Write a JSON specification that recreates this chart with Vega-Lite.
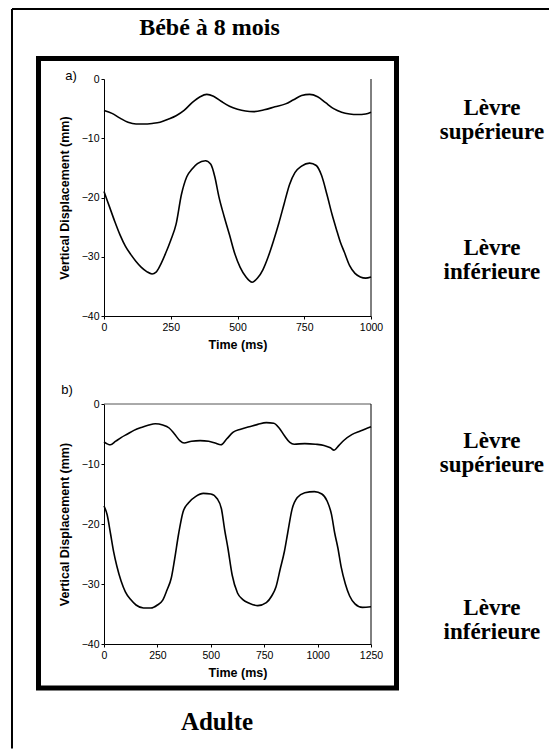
{
  "$schema": "https://vega.github.io/schema/vega-lite/v6.json",
  "background": "white",
  "padding": {"left": 10, "top": 8, "right": 0, "bottom": 0},
  "autosize": {"type": "pad"},
  "bounds": "flush",
  "spacing": 88,
  "config": {
    "view": {"stroke": null},
    "axis": {
      "grid": false,
      "domainColor": "#000",
      "tickColor": "#000",
      "labelColor": "#000",
      "titleColor": "#000",
      "labelFont": "Liberation Sans",
      "titleFont": "Liberation Sans",
      "labelFontSize": 10.5,
      "titleFontSize": 12.5,
      "titleFontWeight": "bold",
      "tickSize": 3,
      "domainWidth": 1
    }
  },
  "datasets": {
    "infant": [
      {"t": 0, "y": -5.3, "lip": "upper"}, {"t": 30, "y": -5.8, "lip": "upper"}, {"t": 60, "y": -6.6, "lip": "upper"}, {"t": 90, "y": -7.3, "lip": "upper"}, {"t": 120, "y": -7.6, "lip": "upper"}, {"t": 150, "y": -7.6, "lip": "upper"}, {"t": 180, "y": -7.5, "lip": "upper"}, {"t": 210, "y": -7.3, "lip": "upper"}, {"t": 240, "y": -6.8, "lip": "upper"}, {"t": 270, "y": -6.2, "lip": "upper"}, {"t": 300, "y": -5.3, "lip": "upper"}, {"t": 330, "y": -4.0, "lip": "upper"}, {"t": 360, "y": -3.0, "lip": "upper"}, {"t": 385, "y": -2.6, "lip": "upper"}, {"t": 410, "y": -2.9, "lip": "upper"}, {"t": 440, "y": -3.8, "lip": "upper"}, {"t": 470, "y": -4.6, "lip": "upper"}, {"t": 500, "y": -5.1, "lip": "upper"}, {"t": 530, "y": -5.4, "lip": "upper"}, {"t": 560, "y": -5.5, "lip": "upper"}, {"t": 600, "y": -5.2, "lip": "upper"}, {"t": 640, "y": -4.7, "lip": "upper"}, {"t": 680, "y": -4.2, "lip": "upper"}, {"t": 710, "y": -3.5, "lip": "upper"}, {"t": 740, "y": -2.8, "lip": "upper"}, {"t": 770, "y": -2.6, "lip": "upper"}, {"t": 800, "y": -3.0, "lip": "upper"}, {"t": 830, "y": -4.0, "lip": "upper"}, {"t": 860, "y": -5.0, "lip": "upper"}, {"t": 890, "y": -5.6, "lip": "upper"}, {"t": 920, "y": -5.9, "lip": "upper"}, {"t": 950, "y": -6.0, "lip": "upper"}, {"t": 980, "y": -5.9, "lip": "upper"}, {"t": 1000, "y": -5.6, "lip": "upper"},
      {"t": 0, "y": -19.0, "lip": "lower"}, {"t": 20, "y": -21.5, "lip": "lower"}, {"t": 40, "y": -24.0, "lip": "lower"}, {"t": 60, "y": -26.3, "lip": "lower"}, {"t": 80, "y": -28.2, "lip": "lower"}, {"t": 100, "y": -29.6, "lip": "lower"}, {"t": 120, "y": -30.8, "lip": "lower"}, {"t": 140, "y": -31.8, "lip": "lower"}, {"t": 160, "y": -32.5, "lip": "lower"}, {"t": 180, "y": -32.9, "lip": "lower"}, {"t": 195, "y": -32.6, "lip": "lower"}, {"t": 210, "y": -31.5, "lip": "lower"}, {"t": 230, "y": -29.5, "lip": "lower"}, {"t": 250, "y": -27.2, "lip": "lower"}, {"t": 270, "y": -24.5, "lip": "lower"}, {"t": 290, "y": -19.5, "lip": "lower"}, {"t": 310, "y": -16.5, "lip": "lower"}, {"t": 330, "y": -15.2, "lip": "lower"}, {"t": 350, "y": -14.3, "lip": "lower"}, {"t": 380, "y": -13.8, "lip": "lower"}, {"t": 400, "y": -14.4, "lip": "lower"}, {"t": 415, "y": -16.5, "lip": "lower"}, {"t": 430, "y": -19.8, "lip": "lower"}, {"t": 450, "y": -23.2, "lip": "lower"}, {"t": 470, "y": -26.3, "lip": "lower"}, {"t": 490, "y": -29.5, "lip": "lower"}, {"t": 510, "y": -31.8, "lip": "lower"}, {"t": 530, "y": -33.3, "lip": "lower"}, {"t": 555, "y": -34.3, "lip": "lower"}, {"t": 575, "y": -33.6, "lip": "lower"}, {"t": 595, "y": -32.2, "lip": "lower"}, {"t": 615, "y": -30.0, "lip": "lower"}, {"t": 635, "y": -27.3, "lip": "lower"}, {"t": 655, "y": -24.3, "lip": "lower"}, {"t": 675, "y": -21.0, "lip": "lower"}, {"t": 695, "y": -17.8, "lip": "lower"}, {"t": 715, "y": -15.8, "lip": "lower"}, {"t": 740, "y": -14.7, "lip": "lower"}, {"t": 770, "y": -14.2, "lip": "lower"}, {"t": 795, "y": -14.6, "lip": "lower"}, {"t": 815, "y": -16.3, "lip": "lower"}, {"t": 835, "y": -19.5, "lip": "lower"}, {"t": 855, "y": -23.0, "lip": "lower"}, {"t": 870, "y": -25.3, "lip": "lower"}, {"t": 885, "y": -27.5, "lip": "lower"}, {"t": 900, "y": -29.2, "lip": "lower"}, {"t": 920, "y": -31.5, "lip": "lower"}, {"t": 940, "y": -32.8, "lip": "lower"}, {"t": 960, "y": -33.4, "lip": "lower"}, {"t": 980, "y": -33.6, "lip": "lower"}, {"t": 1000, "y": -33.4, "lip": "lower"}
    ],
    "adult": [
      {"t": 0, "y": -6.3, "lip": "upper"}, {"t": 30, "y": -6.8, "lip": "upper"}, {"t": 55, "y": -6.2, "lip": "upper"}, {"t": 80, "y": -5.6, "lip": "upper"}, {"t": 110, "y": -5.0, "lip": "upper"}, {"t": 140, "y": -4.4, "lip": "upper"}, {"t": 175, "y": -3.9, "lip": "upper"}, {"t": 210, "y": -3.5, "lip": "upper"}, {"t": 240, "y": -3.3, "lip": "upper"}, {"t": 275, "y": -3.5, "lip": "upper"}, {"t": 305, "y": -4.0, "lip": "upper"}, {"t": 330, "y": -5.0, "lip": "upper"}, {"t": 355, "y": -6.1, "lip": "upper"}, {"t": 375, "y": -6.5, "lip": "upper"}, {"t": 410, "y": -6.2, "lip": "upper"}, {"t": 450, "y": -6.1, "lip": "upper"}, {"t": 490, "y": -6.2, "lip": "upper"}, {"t": 520, "y": -6.5, "lip": "upper"}, {"t": 547, "y": -6.8, "lip": "upper"}, {"t": 575, "y": -5.8, "lip": "upper"}, {"t": 605, "y": -4.7, "lip": "upper"}, {"t": 640, "y": -4.2, "lip": "upper"}, {"t": 680, "y": -3.8, "lip": "upper"}, {"t": 720, "y": -3.4, "lip": "upper"}, {"t": 760, "y": -3.1, "lip": "upper"}, {"t": 795, "y": -3.2, "lip": "upper"}, {"t": 820, "y": -4.0, "lip": "upper"}, {"t": 845, "y": -5.3, "lip": "upper"}, {"t": 870, "y": -6.4, "lip": "upper"}, {"t": 890, "y": -6.7, "lip": "upper"}, {"t": 940, "y": -6.6, "lip": "upper"}, {"t": 990, "y": -6.7, "lip": "upper"}, {"t": 1030, "y": -6.9, "lip": "upper"}, {"t": 1060, "y": -7.3, "lip": "upper"}, {"t": 1077, "y": -7.7, "lip": "upper"}, {"t": 1100, "y": -6.9, "lip": "upper"}, {"t": 1125, "y": -6.0, "lip": "upper"}, {"t": 1160, "y": -5.1, "lip": "upper"}, {"t": 1200, "y": -4.5, "lip": "upper"}, {"t": 1250, "y": -3.8, "lip": "upper"},
      {"t": 0, "y": -17.0, "lip": "lower"}, {"t": 15, "y": -18.5, "lip": "lower"}, {"t": 30, "y": -21.5, "lip": "lower"}, {"t": 45, "y": -24.6, "lip": "lower"}, {"t": 60, "y": -27.0, "lip": "lower"}, {"t": 80, "y": -29.5, "lip": "lower"}, {"t": 100, "y": -31.3, "lip": "lower"}, {"t": 125, "y": -32.6, "lip": "lower"}, {"t": 150, "y": -33.5, "lip": "lower"}, {"t": 185, "y": -34.0, "lip": "lower"}, {"t": 220, "y": -34.0, "lip": "lower"}, {"t": 250, "y": -33.5, "lip": "lower"}, {"t": 275, "y": -32.7, "lip": "lower"}, {"t": 295, "y": -31.0, "lip": "lower"}, {"t": 315, "y": -29.0, "lip": "lower"}, {"t": 330, "y": -26.0, "lip": "lower"}, {"t": 350, "y": -21.5, "lip": "lower"}, {"t": 370, "y": -18.0, "lip": "lower"}, {"t": 395, "y": -16.5, "lip": "lower"}, {"t": 430, "y": -15.4, "lip": "lower"}, {"t": 465, "y": -14.9, "lip": "lower"}, {"t": 500, "y": -15.0, "lip": "lower"}, {"t": 530, "y": -15.8, "lip": "lower"}, {"t": 550, "y": -17.5, "lip": "lower"}, {"t": 565, "y": -21.0, "lip": "lower"}, {"t": 580, "y": -24.0, "lip": "lower"}, {"t": 600, "y": -28.5, "lip": "lower"}, {"t": 625, "y": -31.5, "lip": "lower"}, {"t": 650, "y": -32.6, "lip": "lower"}, {"t": 680, "y": -33.2, "lip": "lower"}, {"t": 720, "y": -33.6, "lip": "lower"}, {"t": 760, "y": -33.1, "lip": "lower"}, {"t": 785, "y": -32.0, "lip": "lower"}, {"t": 805, "y": -30.5, "lip": "lower"}, {"t": 825, "y": -27.5, "lip": "lower"}, {"t": 845, "y": -24.5, "lip": "lower"}, {"t": 860, "y": -21.5, "lip": "lower"}, {"t": 880, "y": -17.6, "lip": "lower"}, {"t": 905, "y": -15.6, "lip": "lower"}, {"t": 940, "y": -14.8, "lip": "lower"}, {"t": 985, "y": -14.6, "lip": "lower"}, {"t": 1020, "y": -15.0, "lip": "lower"}, {"t": 1045, "y": -16.2, "lip": "lower"}, {"t": 1065, "y": -18.4, "lip": "lower"}, {"t": 1080, "y": -21.5, "lip": "lower"}, {"t": 1095, "y": -24.0, "lip": "lower"}, {"t": 1110, "y": -27.1, "lip": "lower"}, {"t": 1130, "y": -30.0, "lip": "lower"}, {"t": 1150, "y": -32.0, "lip": "lower"}, {"t": 1175, "y": -33.3, "lip": "lower"}, {"t": 1210, "y": -33.9, "lip": "lower"}, {"t": 1250, "y": -33.8, "lip": "lower"}
    ]
  },
  "vconcat": [
    {
      "width": 267,
      "height": 237,
      "layer": [
        {
          "data": {"values": [{}]},
          "mark": {"type": "rule", "color": "#000", "strokeWidth": 2, "strokeCap": "butt"},
          "encoding": {"x": {"datum": -344.6}, "y": {"datum": 11.81}, "y2": {"datum": -113.0}}
        },
        {
          "data": {"values": [{}]},
          "mark": {"type": "rule", "color": "#000", "strokeWidth": 2, "strokeCap": "butt"},
          "encoding": {"y": {"datum": 11.81}, "x": {"datum": -344.6}, "x2": {"datum": 1669}}
        },
        {
          "data": {"values": [{}]},
          "mark": {"type": "rect", "fillOpacity": 0, "stroke": "#000", "strokeWidth": 5},
          "encoding": {"x": {"datum": -245.3}, "x2": {"datum": 1095.5}, "y": {"datum": 3.46}, "y2": {"datum": -102.8}}
        },
        {
          "data": {"values": [{}]},
          "mark": {"type": "rule", "color": "#000", "strokeWidth": 1},
          "encoding": {"x": {"datum": 1000}, "y": {"datum": 0}, "y2": {"datum": -40}}
        },
        {
          "data": {"name": "infant"},
          "mark": {"type": "line", "color": "#000", "strokeWidth": 1.6, "interpolate": "monotone"},
          "encoding": {
            "x": {
              "field": "t", "type": "quantitative",
              "scale": {"domain": [0, 1000], "nice": false},
              "axis": {"title": "Time (ms)", "format": "d", "values": [0, 125, 250, 375, 500, 625, 750, 875, 1000], "labelExpr": "datum.value % 250 === 0 ? datum.label : ''", "labelPadding": 3, "titlePadding": 6, "labelFlush": false, "labelOverlap": false}
            },
            "y": {
              "field": "y", "type": "quantitative",
              "scale": {"domain": [-40, 0], "nice": false, "zero": false},
              "axis": {"title": "Vertical Displacement (mm)", "values": [0, -10, -20, -30, -40], "labelPadding": 2, "titlePadding": 10}
            },
            "detail": {"field": "lip"}
          }
        },
        {
          "data": {"values": [{}]},
          "mark": {"type": "text", "text": "a)", "font": "Liberation Sans", "fontSize": 13, "align": "center", "baseline": "middle", "color": "#000"},
          "encoding": {"x": {"datum": -123.6}, "y": {"datum": 0.5}}
        },
        {
          "data": {"values": [{}]},
          "mark": {"type": "text", "text": "Bébé à 8 mois", "font": "Liberation Serif", "fontWeight": "bold", "fontSize": 24, "align": "center", "baseline": "middle", "color": "#000"},
          "encoding": {"x": {"datum": 395}, "y": {"datum": 8.6}}
        },
        {
          "data": {"values": [{}]},
          "mark": {"type": "text", "text": ["Lèvre", "supérieure"], "font": "Liberation Serif", "fontWeight": "bold", "fontSize": 23, "lineHeight": 24, "align": "center", "baseline": "middle", "color": "#000"},
          "encoding": {"x": {"datum": 1453}, "y": {"datum": -4.9}}
        },
        {
          "data": {"values": [{}]},
          "mark": {"type": "text", "text": ["Lèvre", "inférieure"], "font": "Liberation Serif", "fontWeight": "bold", "fontSize": 23, "lineHeight": 24, "align": "center", "baseline": "middle", "color": "#000"},
          "encoding": {"x": {"datum": 1453}, "y": {"datum": -28.5}}
        }
      ]
    },
    {
      "width": 267,
      "height": 240,
      "layer": [
        {
          "data": {"values": [{}]},
          "mark": {"type": "rule", "color": "#555", "strokeWidth": 1},
          "encoding": {"y": {"datum": 0}, "x": {"datum": 0}, "x2": {"datum": 1250}}
        },
        {
          "data": {"values": [{}]},
          "mark": {"type": "rule", "color": "#000", "strokeWidth": 1},
          "encoding": {"x": {"datum": 1250}, "y": {"datum": 0}, "y2": {"datum": -40}}
        },
        {
          "data": {"name": "adult"},
          "mark": {"type": "line", "color": "#000", "strokeWidth": 1.6, "interpolate": "monotone"},
          "encoding": {
            "x": {
              "field": "t", "type": "quantitative",
              "scale": {"domain": [0, 1250], "nice": false},
              "axis": {"title": "Time (ms)", "format": "d", "values": [0, 125, 250, 375, 500, 625, 750, 875, 1000, 1125, 1250], "labelExpr": "datum.value % 250 === 0 ? datum.label : ''", "labelPadding": 3, "titlePadding": 6, "labelFlush": false, "labelOverlap": false}
            },
            "y": {
              "field": "y", "type": "quantitative",
              "scale": {"domain": [-40, 0], "nice": false, "zero": false},
              "axis": {"title": "Vertical Displacement (mm)", "values": [0, -10, -20, -30, -40], "labelPadding": 2, "titlePadding": 10}
            },
            "detail": {"field": "lip"}
          }
        },
        {
          "data": {"values": [{}]},
          "mark": {"type": "text", "text": "b)", "font": "Liberation Sans", "fontSize": 13, "align": "center", "baseline": "middle", "color": "#000"},
          "encoding": {"x": {"datum": -173}, "y": {"datum": 2.33}}
        },
        {
          "data": {"values": [{}]},
          "mark": {"type": "text", "text": "Adulte", "font": "Liberation Serif", "fontWeight": "bold", "fontSize": 25, "align": "center", "baseline": "middle", "color": "#000"},
          "encoding": {"x": {"datum": 529}, "y": {"datum": -53}}
        },
        {
          "data": {"values": [{}]},
          "mark": {"type": "text", "text": ["Lèvre", "supérieure"], "font": "Liberation Serif", "fontWeight": "bold", "fontSize": 23, "lineHeight": 24, "align": "center", "baseline": "middle", "color": "#000"},
          "encoding": {"x": {"datum": 1816}, "y": {"datum": -6.17}}
        },
        {
          "data": {"values": [{}]},
          "mark": {"type": "text", "text": ["Lèvre", "inférieure"], "font": "Liberation Serif", "fontWeight": "bold", "fontSize": 23, "lineHeight": 24, "align": "center", "baseline": "middle", "color": "#000"},
          "encoding": {"x": {"datum": 1816}, "y": {"datum": -34.0}}
        }
      ]
    }
  ]
}
